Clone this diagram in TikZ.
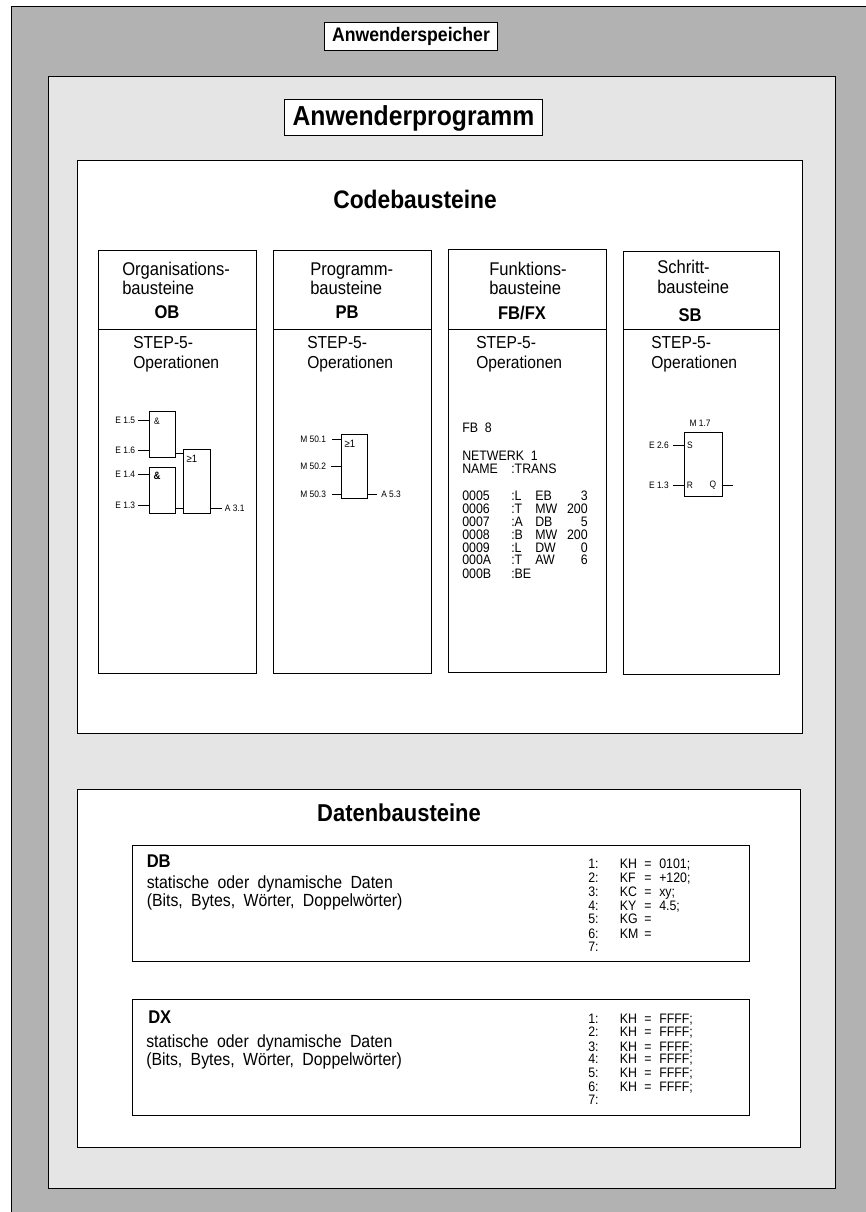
\documentclass[tikz,border=0pt]{standalone}
\usepackage{fontspec}
\setmainfont[FakeStretch=0.9]{Liberation Sans}
\newfontfamily\widefont[FakeStretch=0.9,WordSpace=1.9]{Liberation Sans}
\definecolor{MEMgray}{HTML}{B2B2B2}
\definecolor{PRGgray}{HTML}{E5E5E5}
\usetikzlibrary{calc, positioning}
\tikzset{
   frame/.style={draw=black, line width=0.75pt},
   titlebox/.style={draw=black, fill=white, line width=0.75pt, font=\bfseries, inner sep=0pt},
   bigtitle/.style={font=\fontsize{18.3}{20}\selectfont\bfseries, anchor=base, inner sep=0pt},
   headtext/.style={font=\fontsize{13.8}{15}\selectfont, anchor=base west, inner sep=0pt},
   headbold/.style={font=\fontsize{13.8}{15}\selectfont\bfseries, anchor=base, inner sep=0pt},
   optext/.style={font=\fontsize{13}{15}\selectfont, anchor=base west, inner sep=0pt},
   listtext/.style={font=\fontsize{10.3}{12}\selectfont, anchor=base west, inner sep=0pt},
   datatext/.style={font=\fontsize{13.2}{15}\selectfont\widefont, anchor=base west, inner sep=0pt},
   gatebox/.style={draw=black, line width=0.75pt, inner sep=0pt},
   gatetext/.style={font=\fontsize{7}{8}\selectfont, inner sep=0pt},
   pinleft/.style={font=\fontsize{7}{8}\selectfont, anchor=east, inner sep=3pt},
   pinright/.style={font=\fontsize{7}{8}\selectfont, anchor=west, inner sep=3pt},
   pin/.style={line width=0.75pt}
}
\begin{document}
\begin{tikzpicture}[x=0.75pt, y=-0.75pt]
   \useasboundingbox (0,0) rectangle (866,1212);
   % Memory area, runs off right and bottom
   \fill[MEMgray] (11.5,6.7) rectangle (866,1212);
   \draw[frame] (866,6.7) -- (11.5,6.7) -- (11.5,1212);
   % Program area
   \filldraw[frame, fill=PRGgray] (48,77) rectangle (835,1188.5);
   \node[titlebox, minimum width=130pt, minimum height=21.7pt, font=\fontsize{14.7}{16}\selectfont\bfseries] (memTitle) at (411,36.5) {Anwenderspeicher};
   \node[titlebox, minimum width=193pt, minimum height=27pt, font=\fontsize{20.6}{22}\selectfont\bfseries] (prgTitle) at (413.5,118) {Anwenderprogramm};
   % Code and data panels
   \filldraw[frame, fill=white] (77,161) rectangle (802,733);
   \filldraw[frame, fill=white] (77,789) rectangle (800,1147);
   \node[bigtitle, font=\fontsize{19}{20}\selectfont\bfseries] (codeTitle) at (415,209) {Codebausteine};
   \node[bigtitle] (dataTitle) at (399,821) {Datenbausteine};
   % Four columns: left/right/top/bottom
   \draw[frame] (98,251) rectangle (256,673) (98,329) -- (256,329);
   \draw[frame] (273,251) rectangle (431,673) (273,329) -- (431,329);
   \draw[frame] (448,250) rectangle (606,672) (448,329) -- (606,329);
   \draw[frame] (623,252) rectangle (779,674) (623,329) -- (779,329);
   % Column heads
   \node[headtext] (obA) at (122,276) {Organisations-};
   \node[headtext] (obB) at (122,295) {bausteine};
   \node[headbold] (obC) at (167,319) {OB};
   \node[headtext] (pbA) at (310,276) {Programm-};
   \node[headtext] (pbB) at (310,295) {bausteine};
   \node[headbold] (pbC) at (347,319) {PB};
   \node[headtext] (fbA) at (489,276) {Funktions-};
   \node[headtext] (fbB) at (489,295) {bausteine};
   \node[headbold] (fbC) at (522,320) {FB/FX};
   \node[headtext] (sbA) at (657,274) {Schritt-};
   \node[headtext] (sbB) at (657,294) {bausteine};
   \node[headbold] (sbC) at (690,321) {SB};
   % STEP-5 lines
   \foreach \col/\xpos in {ob/133, pb/307, fb/476, sb/651} {
      \node[optext] (\col opA) at (\xpos,348) {STEP-5-};
      \node[optext] (\col opB) at (\xpos,368) {Operationen};
   }
   % OB network
   \node[gatebox, minimum width=19.5pt, minimum height=34.5pt] (andA) at (162,434.7) {};
   \node[gatebox, minimum width=19.5pt, minimum height=34.5pt] (andB) at (162,490) {};
   \node[gatebox, minimum width=20pt, minimum height=48pt] (orA) at (197.3,481) {};
   \node[gatetext] (andAtxt) at (157,421) {\&};
   \node[gatetext, font=\fontsize{8}{8}\selectfont\bfseries] (andBtxt) at (157,476) {\&};
   \node[gatetext, font=\fontsize{8}{8}\selectfont] (orAtxt) at (192,459) {≥1};
   \node[pinleft, inner sep=2pt] (e15) at (138,420) {E 1.5};
   \node[pinleft, inner sep=2pt] (e16) at (138,450) {E 1.6};
   \node[pinleft, inner sep=2pt] (e14) at (138,474) {E 1.4};
   \node[pinleft, inner sep=2pt] (e13) at (138,505.7) {E 1.3};
   \node[pinright, inner sep=2pt] (a31) at (222,508) {A 3.1};
   \draw[pin] (e15.east) -- (e15.east -| andA.west);
   \draw[pin] (e16.east) -- (e16.east -| andA.west);
   \draw[pin] (e14.east) -- (e14.east -| andB.west);
   \draw[pin] (e13.east) -- (e13.east -| andB.west);
   \draw[pin] (a31.west) -- (a31.west -| orA.east);
   \coordinate (linkA) at (175,453);
   \coordinate (linkB) at (175,508);
   \draw[pin] (linkA) -- (linkA -| orA.west);
   \draw[pin] (linkB) -- (linkB -| orA.west);
   % PB network
   \node[gatebox, minimum width=19.5pt, minimum height=48.7pt] (orB) at (354,466.5) {};
   \node[gatetext, font=\fontsize{8}{8}\selectfont] (orBtxt) at (350,444) {≥1};
   \node[pinleft, inner sep=4.3pt] (m501) at (332,439) {M 50.1};
   \node[pinleft, inner sep=3.6pt] (m502) at (331,466) {M 50.2};
   \node[pinleft, inner sep=4.3pt] (m503) at (332,494) {M 50.3};
   \node[pinright] (a53) at (377,494) {A 5.3};
   \draw[pin] (m501.east) -- (m501.east -| orB.west);
   \draw[pin] (m502.east) -- (m502.east -| orB.west);
   \draw[pin] (m503.east) -- (m503.east -| orB.west);
   \draw[pin] (a53.west) -- (a53.west -| orB.east);
   % SB network
   \node[gatebox, minimum width=29pt, minimum height=48pt] (srB) at (703.5,464) {};
   \node[gatetext] (srM) at (700,423) {M 1.7};
   \node[gatetext] (srS) at (690,445) {S};
   \node[gatetext] (srR) at (690,485) {R};
   \node[gatetext] (srQ) at (713,485) {Q};
   \node[pinleft] (e26) at (673,445) {E 2.6};
   \node[pinleft] (e13b) at (673,485) {E 1.3};
   \draw[pin] (e26.east) -- (e26.east -| srB.west);
   \draw[pin] (e13b.east) -- (e13b.east -| srB.west);
   \coordinate (sbOut) at (733,485);
   \draw[pin] (sbOut) -- (sbOut -| srB.east);
   % FB listing
   \node[listtext] (fbHead) at (462,432) {FB\ \ 8};
   \node[listtext] (fbNet) at (462,460) {NETWERK\ \ 1};
   \node[listtext] (fbName) at (462,473) {NAME};
   \node[listtext] (fbTrans) at (511,473) {:TRANS};
   \foreach \i/\yp/\addr/\op/\arg/\val in {1/500/0005/:L/EB/3, 2/513/0006/:T/MW/200, 3/526/0007/:A/DB/5,
      4/539/0008/:B/MW/200, 5/552/0009/:L/DW/0, 6/564/000A/:T/AW/6} {
      \node[listtext] (addr\i) at (462,\yp) {\addr};
      \node[listtext] (op\i) at (511,\yp) {\op};
      \node[listtext] (arg\i) at (535,\yp) {\arg};
      \node[listtext, anchor=base east] (val\i) at (588,\yp) {\val};
   }
   \node[listtext] (addr7) at (462,578) {000B};
   \node[listtext] (op7) at (511,578) {:BE};
   % Data blocks
   \draw[frame] (132,845) rectangle (749,961);
   \draw[frame] (132,999) rectangle (749,1115);
   \node[headbold, anchor=base west] (dbName) at (146.5,867) {DB};
   \node[datatext] (dbA) at (146.5,888) {statische oder dynamische Daten};
   \node[datatext] (dbB) at (146.5,906) {(Bits, Bytes, Wörter, Doppelwörter)};
   \node[headbold, anchor=base west] (dxName) at (148,1023) {DX};
   \node[datatext] (dxA) at (146,1047) {statische oder dynamische Daten};
   \node[datatext] (dxB) at (146,1065) {(Bits, Bytes, Wörter, Doppelwörter)};
   % Data values
   \foreach \i/\yp/\kw/\val in {1/868/KH/0101;, 2/882/KF/+120;, 3/896/KC/xy;, 4/910/KY/4.5;, 5/923/KG/, 6/938/KM/} {
      \node[listtext] (dbNr\i) at (588,\yp) {\i:};
      \node[listtext] (dbKw\i) at (619.6,\yp) {\kw};
      \node[listtext] (dbEq\i) at (644,\yp) {=};
      \node[listtext] (dbVal\i) at (659,\yp) {\val};
   }
   \node[listtext] (dbNr7) at (588,951) {7:};
   \foreach \i/\yp in {1/1023, 2/1036, 3/1051, 4/1063, 5/1077, 6/1091} {
      \node[listtext] (dxNr\i) at (588,\yp) {\i:};
      \node[listtext] (dxKw\i) at (619.6,\yp) {KH};
      \node[listtext] (dxEq\i) at (644,\yp) {=};
      \node[listtext] (dxVal\i) at (659,\yp) {FFFF;};
   }
   \node[listtext] (dxNr7) at (588,1104) {7:};
\end{tikzpicture}
\end{document}
